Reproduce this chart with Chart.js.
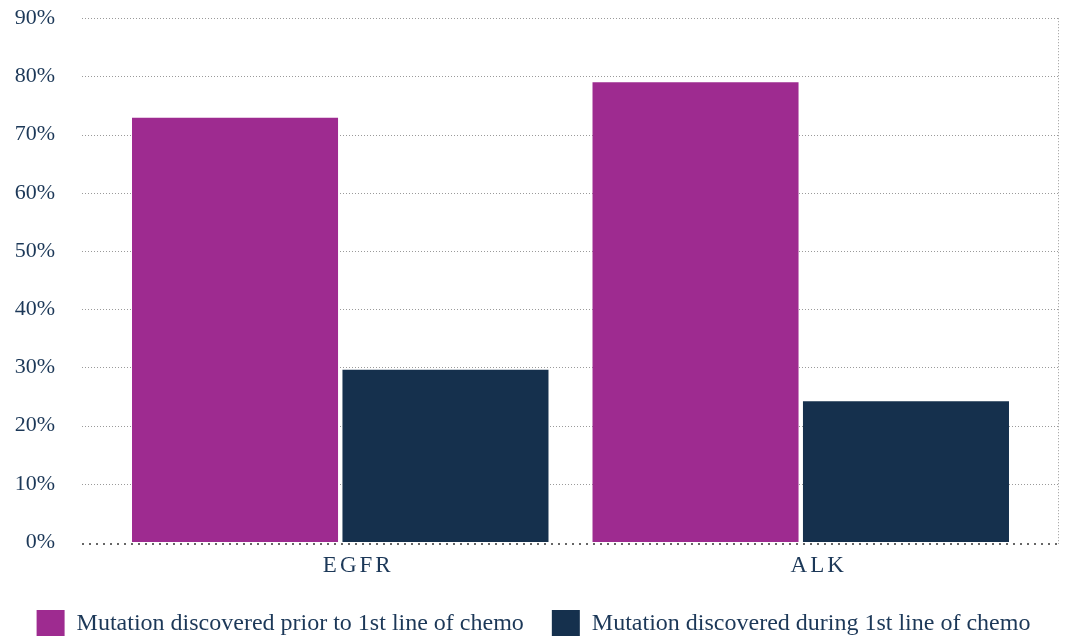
<!DOCTYPE html>
<html>
<head>
<meta charset="utf-8">
<script src="https://cdn.jsdelivr.net/npm/chart.js@4"></script>
<style>
  html, body { margin: 0; padding: 0; background: #fff; overflow: hidden; }
  #wrap { position: relative; width: 1067px; height: 648px; }
</style>
</head>
<body>
<div id="wrap"><canvas id="chart"></canvas></div>
<script>
  const categories = ['EGFR', 'ALK'];
  const priorValues = [72.9, 79.0];
  const duringValues = [29.6, 24.2];
  const seriesNames = [
    'Mutation discovered prior to 1st line of chemo',
    'Mutation discovered during 1st line of chemo'
  ];

  const TEXT = '#1c3858';
  const FONT = '"Liberation Serif", "DejaVu Serif", serif';

  // dotted grid spanning wider than the bar area, plus right border and x labels
  const dottedGrid = {
    id: 'dottedGrid',
    beforeDatasetsDraw(chart) {
      const { ctx, scales: { x, y } } = chart;
      const left = 82, right = 1058;
      ctx.save();
      ctx.strokeStyle = '#9a9a9a';
      ctx.lineWidth = 1;
      ctx.setLineDash([1, 2]);
      for (let v = 10; v <= 90; v += 10) {
        const py = Math.round(y.getPixelForValue(v)) + 0.5;
        ctx.beginPath();
        ctx.moveTo(left, py);
        ctx.lineTo(right, py);
        ctx.stroke();
      }
      ctx.beginPath();
      ctx.moveTo(right + 0.5, y.getPixelForValue(90));
      ctx.lineTo(right + 0.5, y.getPixelForValue(0) + 2);
      ctx.stroke();
      // baseline
      ctx.strokeStyle = '#666';
      ctx.lineWidth = 2;
      ctx.setLineDash([2, 5]);
      const by = y.getPixelForValue(0) + 2;
      ctx.beginPath();
      ctx.moveTo(left, by);
      ctx.lineTo(right, by);
      ctx.stroke();
      ctx.restore();

      // category labels, letter-spaced
      ctx.save();
      ctx.fillStyle = TEXT;
      ctx.font = '23px ' + FONT;
      ctx.letterSpacing = '3px';
      ctx.textAlign = 'center';
      ctx.textBaseline = 'middle';
      categories.forEach((c, i) => {
        ctx.fillText(c, x.getPixelForValue(i) + 18, by + 22);
      });
      ctx.restore();
    }
  };

  new Chart(document.getElementById('chart'), {
    type: 'bar',
    data: {
      labels: categories,
      datasets: [
        {
          label: seriesNames[0],
          data: priorValues,
          backgroundColor: '#9e2b90',
          categoryPercentage: 0.914,
          barPercentage: 0.979,
        },
        {
          label: seriesNames[1],
          data: duringValues,
          backgroundColor: '#15304d',
          categoryPercentage: 0.914,
          barPercentage: 0.979,
        }
      ]
    },
    options: {
      responsive: true,
      maintainAspectRatio: false,
      animation: false,
      layout: { padding: { left: 0, right: 0, top: 18, bottom: 0 } },
      plugins: {
        tooltip: { enabled: false },
        legend: {
          position: 'bottom',
          labels: {
            color: TEXT,
            font: { family: FONT, size: 24 },
            boxWidth: 28,
            boxHeight: 28,
            padding: 28,
          }
        }
      },
      scales: {
        x: {
          grid: { display: false, drawTicks: false },
          border: { display: false },
          ticks: { display: false },
          afterFit: (scale) => { scale.height = 40; },
        },
        y: {
          min: 0,
          max: 90,
          grid: { display: false, drawTicks: true, tickLength: 50 },
          border: { display: false },
          afterFit: (scale) => { scale.width = 110; },
          ticks: {
            stepSize: 10,
            color: TEXT,
            font: { family: FONT, size: 22 },
            padding: 5,
            callback: v => v + '%',
          }
        },
        // empty right axis, only reserves the margin on the right
        yRight: {
          position: 'right',
          min: 0,
          max: 90,
          grid: { display: false, drawTicks: false },
          border: { display: false },
          ticks: { display: false },
          afterFit: (scale) => { scale.width = 36; },
        }
      }
    },
    plugins: [dottedGrid]
  });
</script>
</body>
</html>
